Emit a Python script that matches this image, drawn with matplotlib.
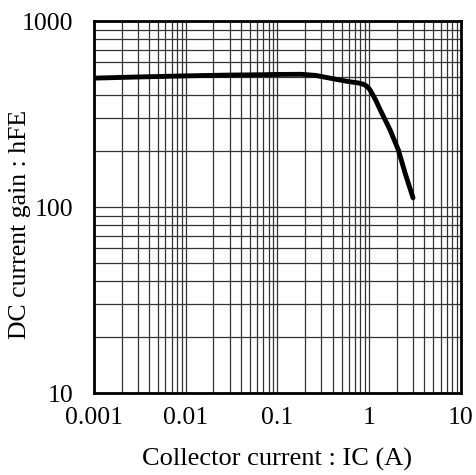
import matplotlib
matplotlib.use("Agg")
import matplotlib.pyplot as plt
from matplotlib.ticker import LogLocator, FixedLocator, NullFormatter, FixedFormatter

ic = [0.001, 0.003, 0.01, 0.03, 0.066, 0.1, 0.18, 0.26, 0.38, 0.6, 0.75, 0.85, 0.93, 1.0, 1.08, 1.18, 1.32, 1.69, 2.08, 2.46, 3.0]
hfe = [493, 500, 507, 512, 514, 516, 517, 510, 492, 472, 465, 458, 448, 432, 406, 374, 332, 259, 202, 152, 112]

xticks = [0.001, 0.01, 0.1, 1, 10]
xlabels = ["0.001", "0.01", "0.1", "1", "10"]
yticks = [10, 100, 1000]
ylabels = ["10", "100", "1000"]

plt.rcParams['font.family'] = ['Liberation Serif', 'DejaVu Serif']

fig = plt.figure(figsize=(4.77, 4.75), dpi=100)
ax = fig.add_axes([94/477, (475-393)/475, (461-94)/477, (393-21)/475])
ax.set_xscale('log')
ax.set_yscale('log')
ax.set_xlim(0.001, 10)
ax.set_ylim(10, 1000)

ax.xaxis.set_major_locator(FixedLocator(xticks))
ax.xaxis.set_major_formatter(FixedFormatter(xlabels))
ax.yaxis.set_major_locator(FixedLocator(yticks))
ax.yaxis.set_major_formatter(FixedFormatter(ylabels))
ax.xaxis.set_minor_locator(LogLocator(base=10, subs=range(2, 10)))
ax.yaxis.set_minor_locator(LogLocator(base=10, subs=range(2, 10)))
ax.xaxis.set_minor_formatter(NullFormatter())
ax.yaxis.set_minor_formatter(NullFormatter())

ax.grid(True, which='both', color='#333333', linewidth=0.9)
ax.tick_params(which='both', length=0, labelsize=18.5)
ax.tick_params(axis='x', pad=10)
ax.tick_params(axis='y', pad=15)

ax.plot(ic, hfe, color='black', linewidth=3.5, solid_capstyle='round', solid_joinstyle='round')

for s in ax.spines.values():
    s.set_linewidth(2)
    s.set_color('black')

ax.set_xlabel("Collector current : IC (A)", fontsize=19, labelpad=14)
ax.set_ylabel("DC current gain : hFE", fontsize=18.5)
ax.yaxis.set_label_coords(-(94-31)/367, (393-224)/372)

fig.savefig("out.png", dpi=100)
